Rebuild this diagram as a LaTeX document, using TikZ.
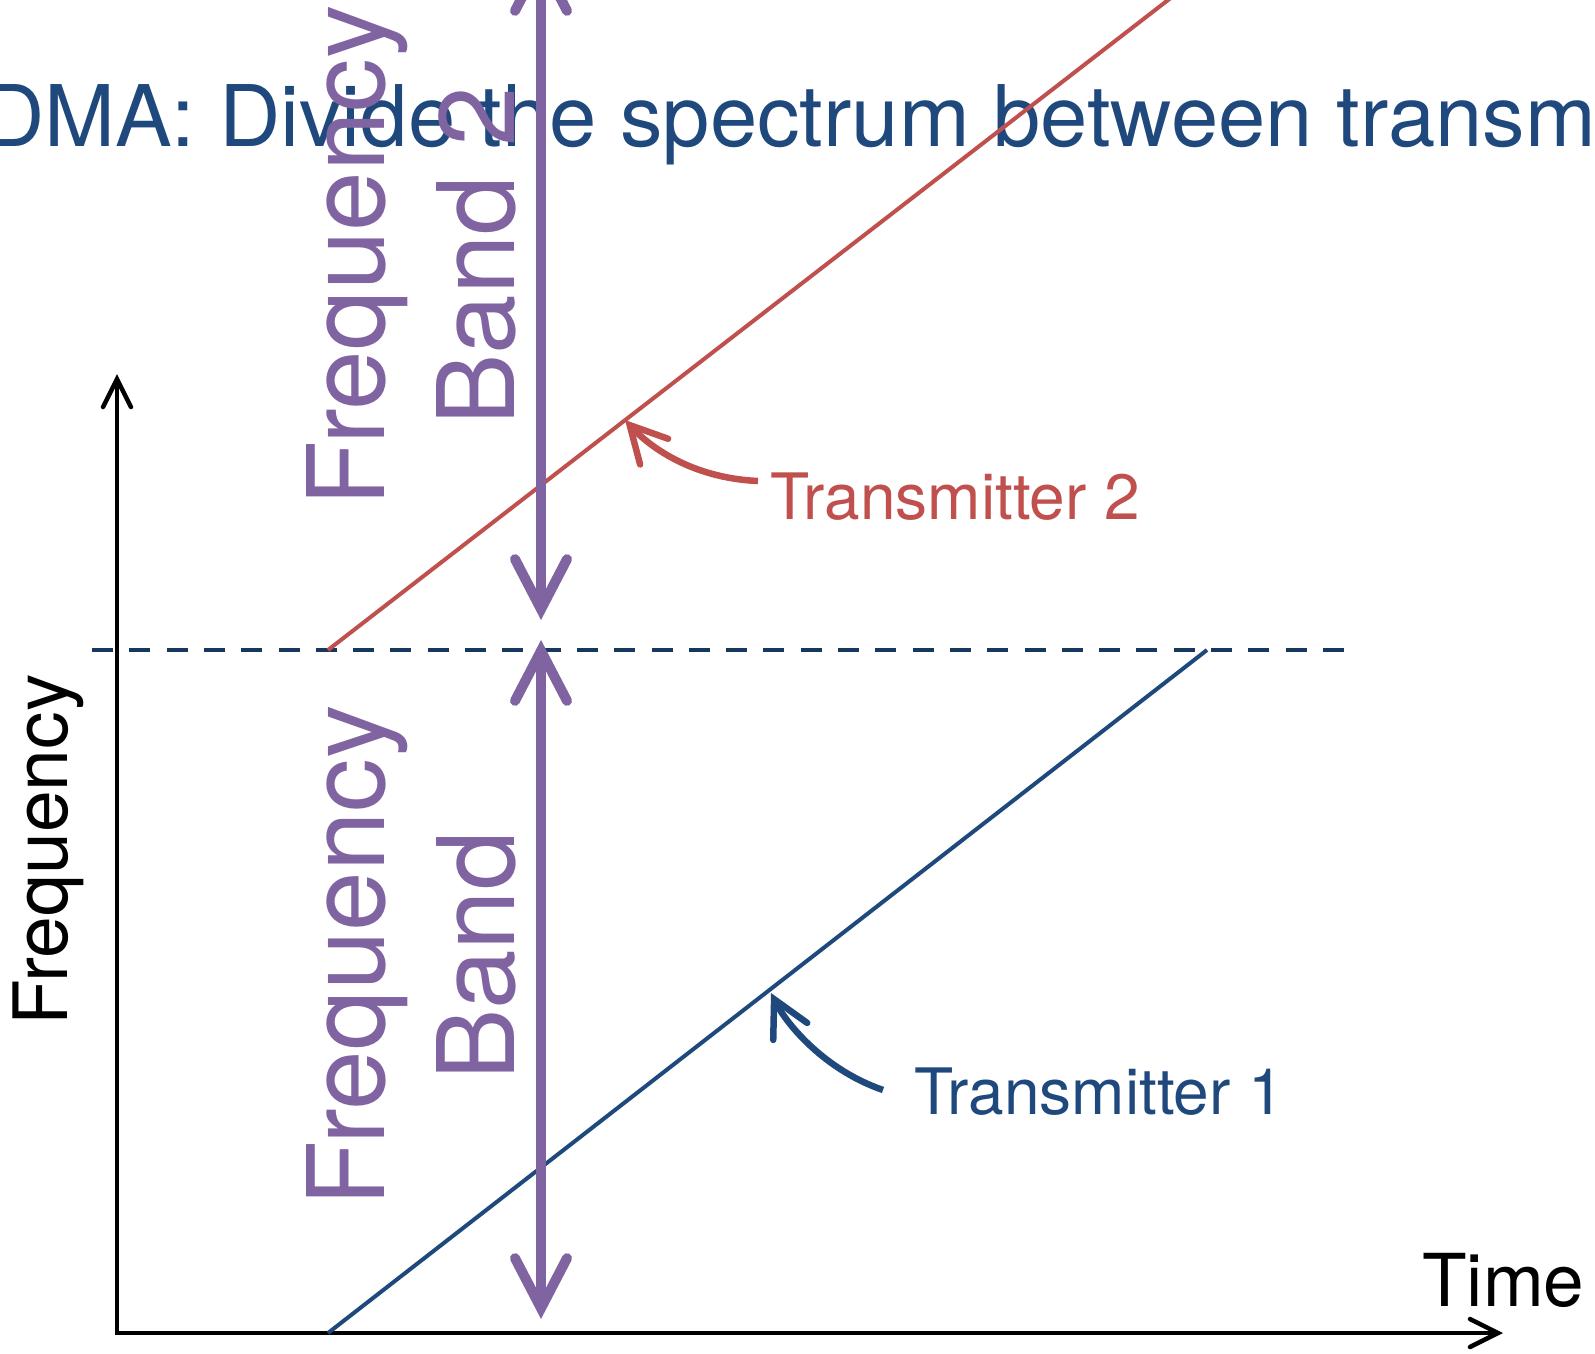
\documentclass[tikz,border=0pt]{standalone}
\usepackage{fontspec}
\setmainfont{TeX Gyre Heros}
\usetikzlibrary{arrows.meta}
\definecolor{tblue}{RGB}{31,73,125}
\definecolor{tred}{RGB}{192,80,77}
\definecolor{tpurple}{RGB}{128,100,162}
\definecolor{tnavy}{RGB}{23,55,94}
\begin{document}
\begin{tikzpicture}[x=1pt,y=-1pt,
  axisline/.style={line width=4.5pt, black, line join=miter,
    {Straight Barb[length=28pt,width=28pt,line cap=round]}-{Straight Barb[length=28pt,width=28pt,line cap=round]}},
  bandarrow/.style={line width=10pt, tpurple,
    {Straight Barb[length=50pt,width=52pt,line cap=round,line join=miter]}-{Straight Barb[length=50pt,width=52pt,line cap=round,line join=miter]}},
  pointer/.style={line width=6.5pt, -{Straight Barb[length=36pt,width=38pt,line cap=round,line join=miter]}},
  chirp/.style={line width=4pt},
  lbl/.style={inner sep=0pt, anchor=base west, font=\fontsize{64}{77}\selectfont},
  bandlabel/.style={rotate=90, align=center, anchor=center, inner sep=0pt, tpurple,
    font=\fontsize{107}{130}\selectfont}
]
\useasboundingbox (0,0) rectangle (1595,1354);
\clip (0,0) rectangle (1595,1354);
\fill[white] (0,0) rectangle (1595,1354);

% title
\node[tblue, anchor=base west, inner sep=0pt, font=\fontsize{85}{100}\selectfont] (title) at (219,146)
  {\llap{FDMA: }Divide the spectrum between transmitters};

% coordinates
\coordinate (O) at (117,1333);
\coordinate (Ytop) at (117,374);
\coordinate (Xend) at (1503,1333);
\coordinate (D1) at (92,650);
\coordinate (D2) at (1346,650);
\coordinate (B1) at (328,1333);
\coordinate (B2) at (1207,650);
\coordinate (R1) at (328,650);
\coordinate (R2) at (1181,-10);
\coordinate (P1) at (541,-50);
\coordinate (P2) at (541,620);
\coordinate (P3) at (541,640);
\coordinate (P4) at (541,1319);

% axes
\draw[axisline] (Ytop) -- (O) -- (Xend);

% dashed separator
\draw[tnavy, line width=4pt, dash pattern=on 21pt off 16.3pt] (D1) -- (D2);

% chirps
\draw[chirp, tblue] (B1) -- (B2);
\draw[chirp, tred] (R1) -- (R2);

% band arrows
\draw[bandarrow] (P1) -- (P2);
\draw[bandarrow] (P3) -- (P4);

% band labels
\node[bandlabel] (band2) at (411,256) {Frequency\\Band 2};
\node[bandlabel] (band1) at (411,956) {Frequency\\Band};

% axis labels
\node[rotate=90, anchor=base, inner sep=0pt, font=\fontsize{75}{90}\selectfont] (flab) at (67,850) {Frequency};
\node[anchor=base west, inner sep=0pt, font=\fontsize{73}{88}\selectfont] (time) at (1422,1306) {Time};

% transmitter labels
\node[lbl, tred] (t2) at (770,519) {Transmitter 2};
\node[lbl, tblue] (t1) at (914,1114) {Transmitter 1};

\coordinate (t2s) at (758,481);
\coordinate (t2tip) at (625,420);
\coordinate (t1s) at (883,1090);
\coordinate (t1tip) at (771,993);
\draw[pointer, tred] (t2s) .. controls (690,478) and (648,445) .. (t2tip);
\draw[pointer, tblue] (t1s) .. controls (825,1070) and (787,1025) .. (t1tip);
\end{tikzpicture}
\end{document}
